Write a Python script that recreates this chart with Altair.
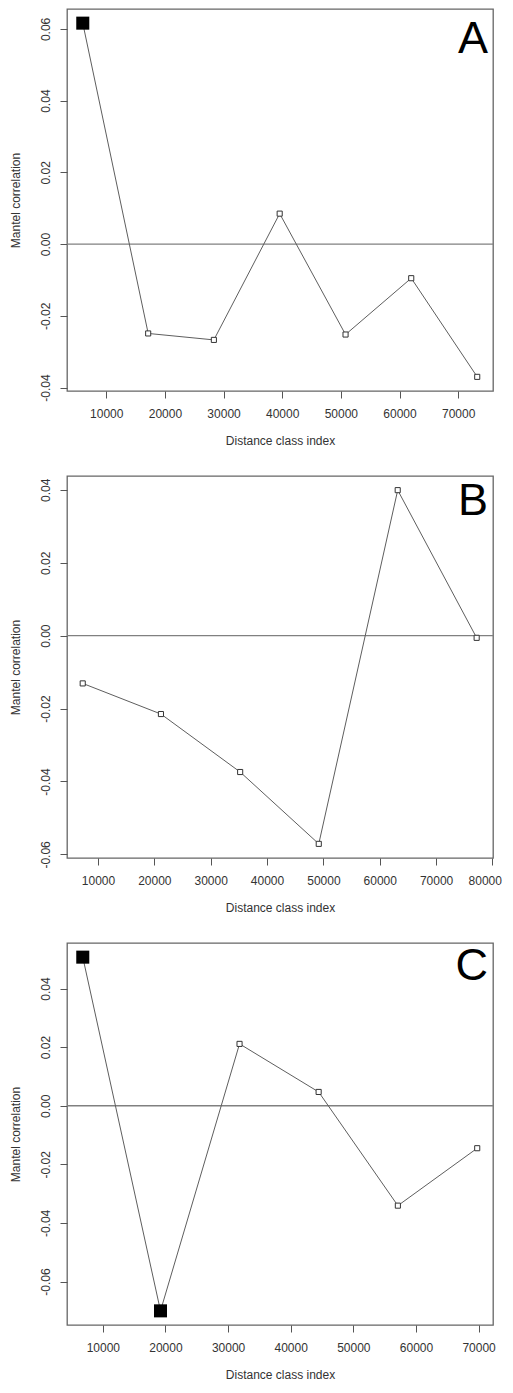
import altair as alt
import pandas as pd

# Panel A
a_dist = [6000, 17150, 28350, 39570, 50800, 62000, 73250]
a_corr = [0.0616, -0.0249, -0.0267, 0.0085, -0.0252, -0.0095, -0.0370]
a_sig = [True, False, False, False, False, False, False]
a_xticks = [10000, 20000, 30000, 40000, 50000, 60000, 70000]
a_yticks = [-0.04, -0.02, 0.00, 0.02, 0.04, 0.06]

# Panel B
b_dist = [7290, 21170, 35230, 49180, 63190, 77200]
b_corr = [-0.0131, -0.0215, -0.0374, -0.0571, 0.0399, -0.0006]
b_sig = [False, False, False, False, False, False]
b_xticks = [10000, 20000, 30000, 40000, 50000, 60000, 70000, 80000]
b_yticks = [-0.06, -0.04, -0.02, 0.00, 0.02, 0.04]
b_xdomain = [4500, 80100]

# Panel C
c_dist = [6800, 19210, 31830, 44460, 57110, 69780]
c_corr = [0.0507, -0.0700, 0.0211, 0.0047, -0.0341, -0.0145]
c_sig = [True, True, False, False, False, False]
c_xticks = [10000, 20000, 30000, 40000, 50000, 60000, 70000]
c_yticks = [-0.06, -0.04, -0.02, 0.00, 0.02, 0.04]

W, H = 426, 382
FONT = "Liberation Sans"


def r_domain(vals):
    lo, hi = min(vals), max(vals)
    pad = 0.04 * (hi - lo)
    return [lo - pad, hi + pad]


def panel(dist, corr, sig, letter, xticks, yticks, letter_y, xdomain=None, flush=False):
    df = pd.DataFrame({"dist": dist, "corr": corr, "sig": sig})
    xs = alt.Scale(domain=xdomain if xdomain else r_domain(dist), nice=False, zero=False)
    ys = alt.Scale(domain=r_domain(corr), nice=False, zero=False)
    xkw = dict(labelFlush=5, labelFlushOffset=9) if flush else dict(labelFlush=False)
    xaxis = alt.Axis(
        title="Distance class index", values=xticks, format="d",
        labelPadding=10, titlePadding=16, **xkw,
    )
    yaxis = alt.Axis(
        title="Mantel correlation", values=yticks,
        labelExpr="replace(format(datum.value, '.2f'), '\u2212', '-')",
        labelAngle=270, labelAlign="center", labelBaseline="bottom",
        labelFlush=False, labelPadding=8, titlePadding=17,
    )
    x = alt.X("dist:Q", scale=xs, axis=xaxis)
    y = alt.Y("corr:Q", scale=ys, axis=yaxis)

    zero = alt.Chart(pd.DataFrame({"corr": [0.0]})).mark_rule(
        color="#808080", strokeWidth=1.4
    ).encode(y=y)
    base = alt.Chart(df).encode(x=x, y=y)
    line = base.mark_line(color="#5e5e5e", strokeWidth=1)
    open_pts = base.transform_filter("!datum.sig").mark_square(
        size=26, filled=True, fill="white", stroke="#333333", strokeWidth=1, opacity=1
    )
    filled_pts = base.transform_filter("datum.sig").mark_square(
        size=170, filled=True, color="black", opacity=1
    )
    lab = alt.Chart(pd.DataFrame({"letter": [letter]})).mark_text(
        align="right", baseline="alphabetic", fontSize=45, font=FONT, color="black"
    ).encode(x=alt.value(W - 5), y=alt.value(letter_y), text="letter:N")
    return alt.layer(zero, line, open_pts, filled_pts, lab).properties(width=W, height=H)


pa = panel(a_dist, a_corr, a_sig, "A", a_xticks, a_yticks, 44)
pb = panel(b_dist, b_corr, b_sig, "B", b_xticks, b_yticks, 39, b_xdomain, flush=True)
pc = panel(c_dist, c_corr, c_sig, "C", c_xticks, c_yticks, 37)

chart = alt.vconcat(pa, pb, pc, spacing=85, bounds="flush").configure_view(
    stroke="#666666", strokeWidth=1.3
).configure_axis(
    domain=False, grid=False, ticks=True, tickColor="#555555", tickSize=7,
    tickWidth=1, labelFont=FONT, labelFontSize=12, labelColor="#333333",
    titleFont=FONT, titleFontSize=12, titleFontWeight="normal", titleColor="#333333",
).properties(
    padding={"left": 0, "top": 0, "right": 0, "bottom": 0},
    background="white",
)

chart.save("out.html", embed_options={"renderer": "svg", "actions": False})
